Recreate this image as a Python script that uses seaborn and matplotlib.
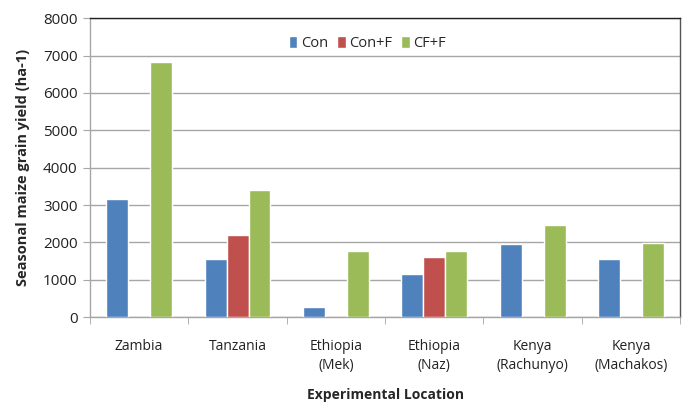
import numpy as np
import pandas as pd
import seaborn as sns
import matplotlib.pyplot as plt
from matplotlib.ticker import FixedLocator

# values (NaN = no bar)
locations = ["Zambia", "Tanzania", "Ethiopia\n(Mek)", "Ethiopia\n(Naz)",
             "Kenya\n(Rachunyo)", "Kenya\n(Machakos)"]
con = [3155, 1550, 275, 1165, 1960, 1550]
con_f = [np.nan, 2200, np.nan, 1600, np.nan, np.nan]
cf_f = [6840, 3400, 1775, 1775, 2470, 1990]
treatments = ["Con", "Con+F", "CF+F"]
colors = ["#4F81BD", "#C0504D", "#9BBB59"]

df = pd.DataFrame({"Location": locations, "Con": con, "Con+F": con_f, "CF+F": cf_f})
long = df.melt(id_vars="Location", var_name="Treatment", value_name="Yield")

sns.set_style("white")
plt.rcParams["font.family"] = ["Open Sans", "DejaVu Sans"]

fig, ax = plt.subplots(figsize=(6.87, 4.05), dpi=100)
fig.subplots_adjust(left=0.131, right=0.990, top=0.955, bottom=0.217)

sns.barplot(data=long, x="Location", y="Yield", hue="Treatment", order=locations,
            hue_order=treatments, palette=colors, width=0.67, saturation=1,
            errorbar=None, ax=ax, zorder=3)

ax.set_ylim(0, 8000)
ax.set_xlim(-0.5, len(locations) - 0.5)
ax.set_yticks(range(0, 8001, 1000))
ax.yaxis.grid(True, color="#a6a6a6", linewidth=1.0, zorder=0)
ax.set_axisbelow(True)

# spines: gray left/bottom, dark top/right like the Excel plot area
for side in ["left", "bottom"]:
    ax.spines[side].set_color("#a6a6a6")
    ax.spines[side].set_linewidth(1.0)
ax.spines["top"].set_color("#222222")
ax.spines["right"].set_color("#555555")
ax.spines["top"].set_linewidth(1.0)
ax.spines["right"].set_linewidth(1.0)

# tick marks between categories on x
ax.xaxis.set_minor_locator(FixedLocator(np.arange(-0.5, len(locations), 1.0)))
ax.tick_params(axis="x", which="major", length=0, pad=16, labelsize=10, colors="#222222")
ax.tick_params(axis="x", which="minor", length=5, color="#a6a6a6", bottom=True)
ax.tick_params(axis="y", length=5, color="#a6a6a6", left=True, labelsize=11,
               pad=4, labelcolor="#222222")
for lbl in ax.get_xticklabels():
    lbl.set_linespacing(1.35)

ax.set_xlabel("Experimental Location", fontsize=10, fontweight="bold", labelpad=11)
ax.set_ylabel("Seasonal maize grain yield (ha-1)", fontsize=10.5, fontweight="bold", labelpad=9)

ax.legend(loc="center", bbox_to_anchor=(0.47, 0.915), ncol=3, frameon=False,
          fontsize=10.5, handlelength=0.6, handleheight=0.8, handletextpad=0.25,
          columnspacing=0.6)

fig.savefig("out.png", dpi=100)
